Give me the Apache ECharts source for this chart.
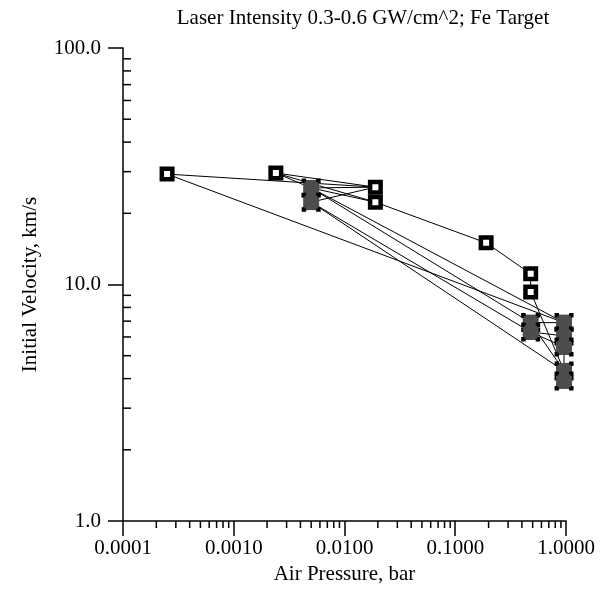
<!DOCTYPE html>
<html>
<head>
<meta charset="utf-8">
<script src="https://cdn.jsdelivr.net/npm/echarts@6/dist/echarts.min.js"></script>
<style>html,body{margin:0;padding:0;background:#fff}#c{width:604px;height:592px}</style>
</head>
<body>
<div id="c"></div>
<script>
// ---- data ----
const pressure = [0.00025, 0.0024, 0.019, 0.019, 0.19, 0.48, 0.48, 0.005, 0.005, 0.48, 0.48, 0.96, 0.96, 0.96, 0.96, 0.96];
const velocity = [29.3, 29.6, 25.8, 22.3, 15.0, 11.1, 9.3, 25.6, 22.3, 6.9, 6.3, 6.9, 6.06, 5.44, 4.31, 3.91];
const filled   = [false, false, false, false, false, false, false, true, true, true, true, true, true, true, true, true];
// point index sequences joined by lines
const runs = [
  [0, 2], [0, 11], [1, 2], [1, 3], [1, 7], [7, 2], [7, 3], [8, 2],
  [7, 11], [7, 9, 11], [8, 10, 12], [8, 14], [3, 4, 5, 6, 14],
  [9, 14], [13, 14], [10, 13]
];
const xTickLabels = ['0.0001', '0.0010', '0.0100', '0.1000', '1.0000'];
const yTickLabels = ['1.0', '10.0', '100.0'];
const xMinorTicks = [0.0002,0.0003,0.0004,0.0005,0.0006,0.0007,0.0008,0.0009,
  0.002,0.003,0.004,0.005,0.006,0.007,0.008,0.009,
  0.02,0.03,0.04,0.05,0.06,0.07,0.08,0.09,
  0.2,0.3,0.4,0.5,0.6,0.7,0.8,0.9];
const yMinorTicks = [2,3,4,5,6,7,8,9,20,30,40,50,60,70,80,90];

const FONT = 'Liberation Serif';
const FS = 21;
const chart = echarts.init(document.getElementById('c'), null, {renderer: 'canvas'});

const series = [];
runs.forEach(r => {
  series.push({
    type: 'line', data: r.map(i => [pressure[i], velocity[i]]),
    showSymbol: false, symbol: 'none', silent: true, z: 2,
    lineStyle: {color: '#000', width: 1}
  });
});
const openPts = [], fillPts = [];
pressure.forEach((p, i) => (filled[i] ? fillPts : openPts).push([p, velocity[i]]));
series.push({
  type: 'scatter', data: fillPts, symbol: 'rect', symbolSize: 16, z: 3, silent: true,
  itemStyle: {color: '#4d4d4d', borderColor: '#000', borderWidth: 3, borderType: [6, 10], borderDashOffset: 3, opacity: 1}
});
series.push({
  type: 'scatter', data: openPts, symbol: 'rect', symbolSize: 10.5, z: 4, silent: true,
  itemStyle: {color: '#fff', borderColor: '#000', borderWidth: 4.5, opacity: 1}
});
// minor ticks drawn through the axis scales
series.push({
  type: 'custom', clip: false, silent: true, z: 5,
  data: xMinorTicks.map(v => [v, 1]),
  renderItem: (params, api) => {
    const p = api.coord([api.value(0), api.value(1)]);
    return {type: 'line', shape: {x1: p[0], y1: p[1], x2: p[0], y2: p[1] + 7}, style: {stroke: '#000', lineWidth: 1.5}};
  }
});
series.push({
  type: 'custom', clip: false, silent: true, z: 5,
  data: yMinorTicks.map(v => [0.0001, v]),
  renderItem: (params, api) => {
    const p = api.coord([api.value(0), api.value(1)]);
    return {type: 'line', shape: {x1: p[0], y1: p[1], x2: p[0] + 8, y2: p[1]}, style: {stroke: '#000', lineWidth: 1.5}};
  }
});

chart.setOption({
  animation: false,
  backgroundColor: '#fff',
  title: {
    text: 'Laser Intensity 0.3-0.6 GW/cm^2; Fe Target',
    left: 358, top: 3, textAlign: 'center',
    textStyle: {fontFamily: FONT, fontSize: FS, fontWeight: 'normal', color: '#000'}
  },
  grid: {left: 123, right: 38, top: 48, bottom: 71},
  xAxis: {
    type: 'log', logBase: 10, min: 0.0001, max: 1,
    name: 'Air Pressure, bar', nameLocation: 'middle', nameGap: 37,
    nameTextStyle: {fontFamily: FONT, fontSize: FS, color: '#000'},
    axisLine: {show: true, onZero: false, lineStyle: {color: '#000', width: 1.5}},
    axisTick: {show: true, inside: false, length: 15, lineStyle: {color: '#000', width: 1.5}},
    axisLabel: {fontFamily: FONT, fontSize: FS, color: '#000', margin: 17,
      formatter: v => xTickLabels[Math.round(Math.log10(v)) + 4]},
    splitLine: {show: false}
  },
  yAxis: {
    type: 'log', logBase: 10, min: 1, max: 100,
    name: 'Initial Velocity, km/s', nameLocation: 'middle', nameGap: 82,
    nameTextStyle: {fontFamily: FONT, fontSize: FS, color: '#000'},
    axisLine: {show: true, onZero: false, lineStyle: {color: '#000', width: 1.5}},
    axisTick: {show: true, inside: false, length: 15, lineStyle: {color: '#000', width: 1.5}},
    axisLabel: {fontFamily: FONT, fontSize: FS, color: '#000', margin: 22,
      formatter: v => yTickLabels[Math.round(Math.log10(v))]},
    splitLine: {show: false}
  },
  series: series
});
</script>
</body>
</html>
